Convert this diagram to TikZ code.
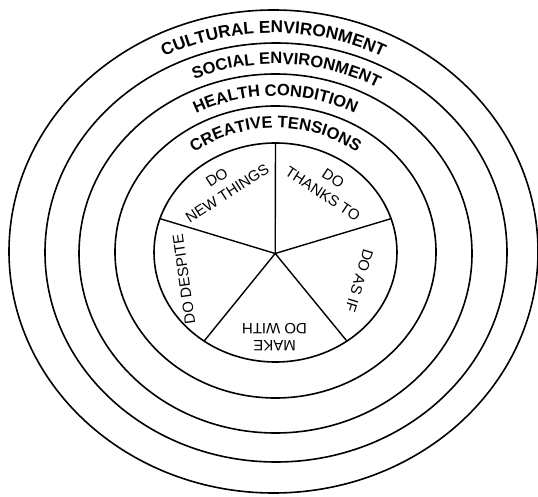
\documentclass[tikz,border=0pt]{standalone}
\usepackage{fontspec}
\setmainfont{Liberation Sans}
\usetikzlibrary{decorations.text}
\newcommand{\ringfont}{\fontsize{16.5}{18}\selectfont\bfseries}
\newcommand{\bigringfont}{\fontsize{17.2}{18}\selectfont\bfseries}
\begin{document}
\begin{tikzpicture}[x=1pt,y=1pt,
  ring/.style={line width=1.6pt},
  spoke/.style={line width=1.4pt},
  sector/.style={font=\fontsize{15}{19}\selectfont, align=center, inner sep=0pt},
  ringtext/.style={decorate, decoration={text along path, text align=center, text={|\ringfont|#1}}},
  bigringtext/.style={decorate, decoration={text along path, text align=center, text={|\bigringfont|#1}}}]
\fill[white] (0,0) rectangle (538,496);
\useasboundingbox (0,0) rectangle (538,496);
% rings
\draw[ring] (273.5,244.5) ellipse [x radius=264.5, y radius=241.5];
\draw[ring] (276,243.5) ellipse [x radius=231, y radius=209.5];
\draw[ring] (275.5,242.5) ellipse [x radius=196.5, y radius=179.5];
\draw[ring] (275.5,244) ellipse [x radius=160.5, y radius=146];
\draw[ring] (275.5,243.5) ellipse [x radius=121.5, y radius=109.5];
% ring labels
\path[shift={(273.5,244.5)}, bigringtext={CULTURAL ENVIRONMENT}] (180:239.3 and 218.5) arc[start angle=180, end angle=0, x radius=239.3, y radius=218.5];
\path[shift={(276,243.5)}, ringtext={SOCIAL ENVIRONMENT}] (173.4:207.8 and 188.5) arc[start angle=173.4, end angle=0, x radius=207.8, y radius=188.5];
\path[shift={(275.5,242.5)}, ringtext={HEALTH CONDITION}] (180:172.5 and 157.5) arc[start angle=180, end angle=0, x radius=172.5, y radius=157.5];
\path[shift={(275.5,244)}, ringtext={CREATIVE TENSIONS}] (180:136.3 and 124) arc[start angle=180, end angle=0, x radius=136.3, y radius=124];
% pie
\coordinate (hub) at (275.2,242.5);
\coordinate (p90) at (275.5,353);
\coordinate (p18) at (391.05,277.34);
\coordinate (pm54) at (346.92,154.91);
\coordinate (pm126) at (204.08,154.91);
\coordinate (p162) at (159.95,277.34);
\foreach \e in {p90,p18,pm54,pm126,p162} \draw[spoke] (hub) -- (\e);
% sector labels
\node[sector, rotate=33] (newthings) at (222,310.5) {DO\\NEW THINGS};
\node[sector, rotate=-33] (thanks) at (328,310) {DO\\THANKS TO};
\node[sector, rotate=-107] (asif) at (359.3,215.3) {DO AS IF};
\node[sector, rotate=180, font=\fontsize{15}{16.5}\selectfont] (makedo) at (274.5,159) {MAKE\\DO WITH};
\node[sector, rotate=98] (despite) at (184,216.7) {DO DESPITE};
\end{tikzpicture}
\end{document}
